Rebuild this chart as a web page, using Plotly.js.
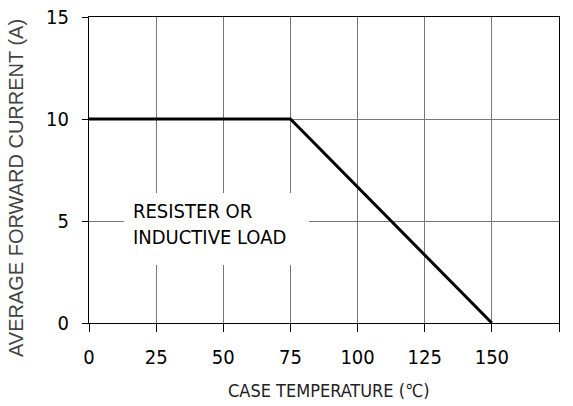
<!DOCTYPE html>
<html>
<head>
<meta charset="utf-8">
<script src="https://cdn.plot.ly/plotly-3.0.1.min.js"></script>
<style>html,body{margin:0;padding:0;background:#fff;}#chart{width:573px;height:406px;}</style>
</head>
<body>
<div id="chart"></div>
<script>
const caseTemp = [0, 75, 150];
const avgCurrent = [10, 10, 0];
const xTicks = [0, 25, 50, 75, 100, 125, 150, 175];
const yTicks = [0, 5, 10, 15];
const noteText = 'RESISTER OR<br>INDUCTIVE LOAD';
const xTitle = 'CASE TEMPERATURE (℃)';
const yTitle = 'AVERAGE FORWARD CURRENT (A)';

const narrow = '"DejaVu Sans Condensed", "Liberation Sans Narrow", Arial, sans-serif';

const trace = {
  x: caseTemp, y: avgCurrent, type: 'scatter', mode: 'lines',
  line: {color: '#000', width: 3}, hoverinfo: 'skip', showlegend: false
};

const layout = {
  width: 573, height: 406,
  margin: {l: 89, r: 14, t: 17, b: 83},
  paper_bgcolor: '#fff', plot_bgcolor: '#fff',
  showlegend: false,
  xaxis: {
    range: [0, 175], tickvals: xTicks, ticktext: xTicks.map(String),
    showgrid: true, gridcolor: '#777', gridwidth: 1,
    zeroline: false, showline: true, linecolor: '#000', linewidth: 1, mirror: true,
    ticks: 'outside', ticklen: 8, tickcolor: '#000', tickwidth: 1,
    ticklabelstandoff: 8,
    tickfont: {family: narrow, size: 20, color: '#000'}
  },
  yaxis: {
    range: [0, 15], tickvals: yTicks, ticktext: yTicks.map(String),
    showgrid: true, gridcolor: '#777', gridwidth: 1,
    zeroline: false, showline: true, linecolor: '#000', linewidth: 1, mirror: true,
    ticks: 'outside', ticklen: 6, tickcolor: '#000', tickwidth: 1,
    ticklabelstandoff: 9,
    tickfont: {family: narrow, size: 20, color: '#000'}
  },
  shapes: [{
    type: 'rect', xref: 'x', yref: 'y', x0: 13.0, x1: 81.9, y0: 2.84, y1: 6.37,
    fillcolor: '#fff', line: {width: 0}, layer: 'between'
  }],
  annotations: [{
    xref: 'x', yref: 'y', x: 15.6, y: 4.85, xanchor: 'left', yanchor: 'middle',
    text: noteText, showarrow: false, align: 'left',
    font: {family: narrow, size: 20, color: '#000'}
  }, {
    xref: 'paper', yref: 'paper', x: 0.5106, y: -0.219, xanchor: 'center', yanchor: 'middle',
    text: xTitle, showarrow: false,
    font: {family: narrow, size: 18, color: '#222'}
  }, {
    xref: 'paper', yref: 'paper', x: -0.1553, y: 0.441, xanchor: 'center', yanchor: 'middle',
    text: yTitle, showarrow: false, textangle: -90,
    font: {family: 'Liberation Sans, Arial, sans-serif', size: 20, color: '#444'}
  }]
};

Plotly.newPlot('chart', [trace], layout, {displayModeBar: false, staticPlot: true});
</script>
</body>
</html>
